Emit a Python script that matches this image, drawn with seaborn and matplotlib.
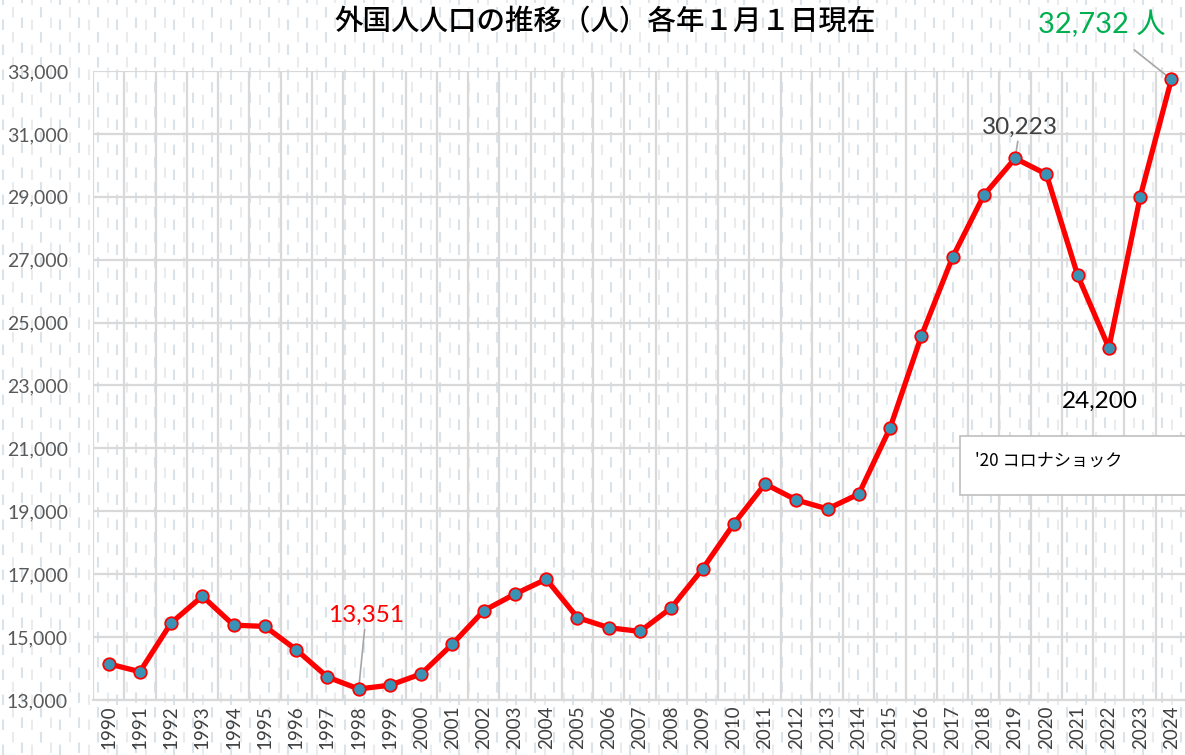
import numpy as np
import pandas as pd
import matplotlib
matplotlib.use("Agg")
import matplotlib.pyplot as plt
from matplotlib.lines import Line2D
from matplotlib.patches import Rectangle
from matplotlib.ticker import FuncFormatter
import seaborn as sns

years = list(range(1990, 2025))
population = [14150, 13900, 15450, 16300, 15380, 15340, 14600, 13730, 13351, 13470,
              13830, 14780, 15840, 16370, 16840, 15620, 15300, 15180, 15930, 17165,
              18600, 19870, 19360, 19075, 19550, 21650, 24570, 27080, 29050, 30223,
              29720, 26510, 24200, 28990, 32732]
y_ticks = [13000, 15000, 17000, 19000, 21000, 23000, 25000, 27000, 29000, 31000, 33000]
title = "外国人人口の推移（人）各年１月１日現在"
box_text = "'20 コロナショック"

sns.set_theme(style="white")
plt.rcParams['font.family'] = ['Lato', 'Noto Sans CJK JP', 'DejaVu Sans']
NUMF = ['Lato', 'Noto Sans CJK JP', 'DejaVu Sans']

W, H = 1185, 755
fig = plt.figure(figsize=(W / 100, H / 100), dpi=100)
fig.patch.set_facecolor("white")

# background dashed pattern
for i, xp in enumerate(np.arange(3, W, 9.5)):
    col = "#dbe3ea" if i % 2 == 0 else "#e9ecef"
    off = [0, 6, 11][i % 3]
    ln = Line2D([xp / W, xp / W], [0, 1], transform=fig.transFigure,
                color=col, lw=1.5, dash_capstyle="butt", zorder=0)
    ln.set_linestyle((off, (5, 7)))
    fig.add_artist(ln)

ax = fig.add_axes([93 / W, 1 - 700 / H, (1187 - 93) / W, (700 - 71) / H])
ax.set_facecolor("none")

df = pd.DataFrame({"year": years, "pop": population})
sns.lineplot(data=df, x="year", y="pop", ax=ax, color="#ff0000", lw=3.8,
             marker="o", markersize=9, markerfacecolor="#3a93b5",
             markeredgecolor="#ff0000", markeredgewidth=1.3, zorder=5, clip_on=False)

ax.set_xlim(1989.5, 2024.5)
ax.set_ylim(13000, 33000)
ax.set_yticks(y_ticks)
ax.yaxis.set_major_formatter(FuncFormatter(lambda v, p: f"{int(v):,}"))
ax.set_xticks(years)
ax.set_xticklabels([str(y) for y in years], rotation=90)
ax.set_xticks(np.arange(1989.5, 2025, 1), minor=True)
ax.grid(axis="y", which="major", color="#d9d9d9", lw=1.6)
ax.grid(axis="x", which="minor", color="#d9d9d9", lw=1.6)
ax.grid(axis="x", which="major", visible=False)
for s in ["top", "right", "left"]:
    ax.spines[s].set_visible(False)
ax.spines["bottom"].set_color("#d9d9d9")
ax.spines["bottom"].set_linewidth(1.6)
ax.tick_params(axis="y", labelsize=14, labelcolor="#595959", length=0, pad=18)
ax.tick_params(axis="x", labelsize=13.5, labelcolor="#404040", length=0, pad=4)
ax.set_xlabel("")
ax.set_ylabel("")

fig.text(605 / W, 1 - 22 / H, title, ha="center", va="center", fontsize=20.5,
         color="black", family=['Noto Sans CJK JP', 'DejaVu Sans'], weight="medium")

ax.annotate("13,351", xy=(1998, 13351), xytext=(366, H - 626), textcoords="figure pixels",
            ha="center", va="bottom", fontsize=17.5, color="#ff0000", family=NUMF,
            arrowprops=dict(arrowstyle="-", color="#a6a6a6", lw=1.2, shrinkA=0, shrinkB=0))
ax.annotate("30,223", xy=(2019, 30223), xytext=(1020, H - 138), textcoords="figure pixels",
            ha="center", va="bottom", fontsize=17.5, color="#404040", family=NUMF,
            arrowprops=dict(arrowstyle="-", color="#a6a6a6", lw=1.2, shrinkA=0, shrinkB=5))
ax.annotate("24,200", xy=(2022, 24200), xytext=(1100, H - 412), textcoords="figure pixels",
            ha="center", va="bottom", fontsize=17.5, color="black", family=NUMF,
            arrowprops=dict(arrowstyle="-", color="#a6a6a6", lw=1.2, shrinkA=24, shrinkB=5))
ax.annotate("32,732 人", xy=(2024, 32732), xytext=(1102, H - 38), textcoords="figure pixels",
            ha="center", va="bottom", fontsize=21, color="#00b050", family=NUMF,
            arrowprops=dict(arrowstyle="-", color="#a6a6a6", lw=1.2, shrinkA=10, shrinkB=3))

fig.add_artist(Rectangle((960 / W, 1 - 495 / H), 240 / W, 59 / H, transform=fig.transFigure,
                         facecolor="white", edgecolor="#bfbfbf", lw=1.2, zorder=7))
fig.text(975 / W, 1 - 461 / H, box_text, ha="left", va="center", fontsize=12.3, color="black",
         family=['Noto Sans CJK JP', 'DejaVu Sans'], zorder=8)

fig.savefig("out.png", dpi=100)
